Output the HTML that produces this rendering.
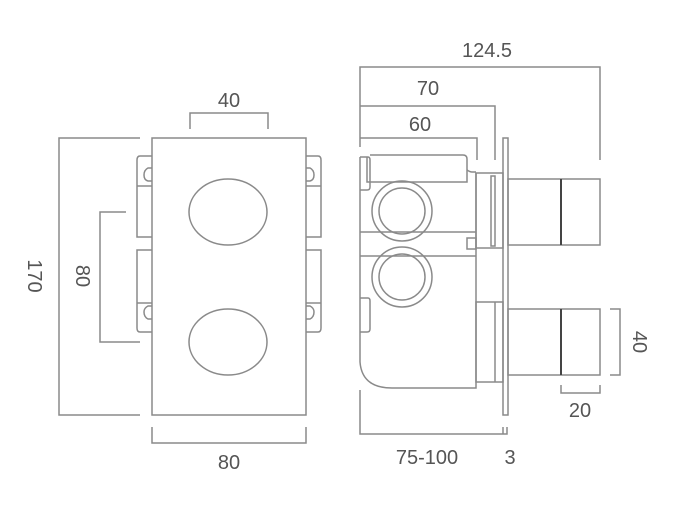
<!DOCTYPE html>
<html><head><meta charset="utf-8"><style>
html,body{margin:0;padding:0;background:#fff;}
svg{display:block;}
text{font-family:"Liberation Sans",sans-serif;font-size:20px;fill:#555;}
</style></head><body>
<svg width="693" height="509" viewBox="0 0 693 509" xmlns="http://www.w3.org/2000/svg">
<g fill="none" stroke="#8a8a8a" stroke-width="1.5">
<rect x="152" y="138" width="154" height="277"/>
<ellipse cx="228" cy="212" rx="39" ry="33"/>
<ellipse cx="228" cy="342" rx="39" ry="33"/>
<path d="M152 156 H140 Q137 156 137 160 V237 H152"/>
<line x1="137" y1="186" x2="152" y2="186"/>
<path d="M152 168 L148 168 Q144 170 144 175 Q144 180 148 181 L152 181"/>
<path d="M152 250 H137 V328 Q137 332 140 332 H152"/>
<line x1="137" y1="303" x2="152" y2="303"/>
<path d="M152 306 L148 306 Q144 308 144 312 Q144 317 148 319 L152 319"/>
<path d="M306 156 H318 Q321 156 321 160 V237 H306"/>
<line x1="306" y1="186" x2="321" y2="186"/>
<path d="M306 168 L310 168 Q314 170 314 175 Q314 180 310 181 L306 181"/>
<path d="M306 250 H321 V328 Q321 332 318 332 H306"/>
<line x1="306" y1="303" x2="321" y2="303"/>
<path d="M306 306 L310 306 Q314 308 314 312 Q314 317 310 319 L306 319"/>
<path d="M190 129 V113 H268 V129"/>
<path d="M140 138 H59 V415 H140"/>
<path d="M126 212 H100 V342 H140"/>
<path d="M152 427 V443 H306 V427"/>

<path d="M360 157 V362 Q362 388 392 388 H476 V173"/>
<path d="M370 155 H463 Q467 155 467 159 V182 H367 V157"/>
<path d="M360 157 H368 Q370 157 370 160 V187 Q370 190 367 190 H360"/>
<path d="M467 170 Q470 172 472 172 H476"/>
<line x1="360" y1="232" x2="476" y2="232"/>
<line x1="360" y1="256" x2="476" y2="256"/>
<circle cx="402" cy="211" r="30"/>
<circle cx="402" cy="211" r="23"/>
<circle cx="402" cy="277" r="30"/>
<circle cx="402" cy="277" r="23"/>
<rect x="467" y="238" width="9" height="11"/>
<path d="M360 298 H368 Q370 298 370 301 V329 Q370 332 367 332 H360"/>
<rect x="476" y="173" width="27" height="75"/>
<rect x="491" y="176" width="4" height="70"/>
<rect x="503" y="138" width="5" height="277"/>
<rect x="508" y="179" width="92" height="66"/>
<line x1="561" y1="179" x2="561" y2="245" stroke="#444" stroke-width="2"/>
<rect x="476" y="302" width="27" height="80"/>
<line x1="495" y1="302" x2="495" y2="382"/>
<rect x="508" y="309" width="92" height="66"/>
<line x1="561" y1="309" x2="561" y2="375" stroke="#444" stroke-width="2"/>
<path d="M360 147 V67 H600 V160"/>
<path d="M360 106 H495 V160"/>
<path d="M360 138 H477 V160"/>
<path d="M360 390 V434 H507 V427"/>
<line x1="503" y1="427" x2="503" y2="434"/>
<path d="M610 309 H620 V375 H610"/>
<path d="M561 385 V393 H600 V385"/>
</g>
<text x="229" y="107" text-anchor="middle">40</text>
<text x="229" y="469" text-anchor="middle">80</text>
<text transform="translate(28,276) rotate(90)" text-anchor="middle">170</text>
<text transform="translate(76,276) rotate(90)" text-anchor="middle">80</text>
<text x="487" y="57" text-anchor="middle">124.5</text>
<text x="428" y="95" text-anchor="middle">70</text>
<text x="420" y="131" text-anchor="middle">60</text>
<text x="427" y="464" text-anchor="middle">75-100</text>
<text x="510" y="464" text-anchor="middle">3</text>
<text x="580" y="417" text-anchor="middle">20</text>
<text transform="translate(633,342) rotate(90)" text-anchor="middle">40</text>
</svg>
</body></html>
